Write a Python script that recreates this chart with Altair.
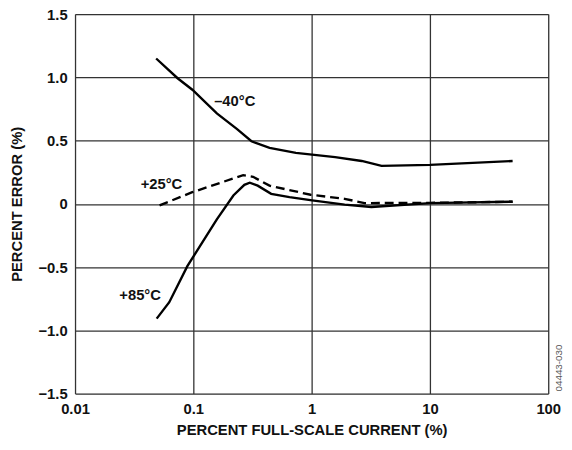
import altair as alt
import pandas as pd

x_m40 = [0.0485, 0.0736, 0.0981, 0.158, 0.233, 0.31, 0.441, 0.736, 1.58, 2.65, 3.9, 10.0, 50.0]
y_m40 = [1.149, 0.993, 0.902, 0.715, 0.593, 0.495, 0.442, 0.403, 0.37, 0.339, 0.30, 0.308, 0.339]

x_p25 = [0.0518, 0.098, 0.264, 0.32, 0.44, 0.98, 1.9, 2.8, 10.0, 50.0]
y_p25 = [-0.012, 0.092, 0.227, 0.214, 0.144, 0.072, 0.04, 0.006, 0.008, 0.017]

x_p85 = [0.049, 0.0626, 0.089, 0.158, 0.218, 0.27, 0.30, 0.35, 0.455, 0.65, 1.01, 1.9, 3.2, 10.0, 50.0]
y_p85 = [-0.907, -0.777, -0.492, -0.123, 0.066, 0.15, 0.167, 0.144, 0.079, 0.053, 0.027, -0.006, -0.025, 0.006, 0.017]

label_text = ["\u201340\u00b0C", "+25\u00b0C", "+85\u00b0C"]
label_x = [0.224, 0.0538, 0.0355]
label_y = [0.81, 0.153, -0.72]

x_ticks = [0.01, 0.1, 1, 10, 100]
y_ticks = [-1.5, -1.0, -0.5, 0, 0.5, 1.0, 1.5]

rows = []
for name, xs, ys in [("m40", x_m40, y_m40), ("p25", x_p25, y_p25), ("p85", x_p85, y_p85)]:
    for i, (a, b) in enumerate(zip(xs, ys)):
        rows.append({"series": name, "x": a, "y": b, "order": i})
df = pd.DataFrame(rows)
lab = pd.DataFrame({"t": label_text, "x": label_x, "y": label_y})

FONT = "Liberation Sans"
FS = 15

xscale = alt.Scale(type="log", domain=[0.01, 100])
yscale = alt.Scale(domain=[-1.5, 1.5])

xaxis = alt.Axis(
    values=x_ticks,
    labelExpr="datum.value >= 1 ? format(datum.value, 'd') : (datum.value >= 0.1 ? '0.1' : '0.01')",
    title="PERCENT FULL-SCALE CURRENT (%)",
    grid=True, gridColor="#333333", gridWidth=1.3,
    ticks=False, domain=False, labelPadding=8, titlePadding=6,
    labelFont=FONT, labelFontSize=FS, labelFontWeight="bold", labelColor="#111111",
    titleFont=FONT, titleFontSize=FS, titleFontWeight="bold", titleColor="#111111",
    labelFlush=False, labelOverlap=False,
)
yaxis = alt.Axis(
    values=y_ticks,
    labelExpr="datum.value == 0 ? '0' : replace(format(datum.value, '.1f'), '-', '\u2013')",
    title="PERCENT ERROR (%)",
    grid=True, gridColor="#333333", gridWidth=1.3,
    ticks=False, domain=False, labelPadding=8, titlePadding=14,
    labelFont=FONT, labelFontSize=FS, labelFontWeight="bold", labelColor="#111111",
    titleFont=FONT, titleFontSize=FS, titleFontWeight="bold", titleColor="#111111",
    labelFlush=False, labelOverlap=False,
)

solid = alt.Chart(df).transform_filter("datum.series != 'p25'").mark_line(
    color="black", strokeWidth=2.4
).encode(
    x=alt.X("x:Q", scale=xscale, axis=xaxis),
    y=alt.Y("y:Q", scale=yscale, axis=yaxis),
    detail="series:N",
    order="order:Q",
)

dashed = alt.Chart(df).transform_filter("datum.series == 'p25'").mark_line(
    color="black", strokeWidth=2.4, strokeDash=[9, 5]
).encode(
    x=alt.X("x:Q", scale=xscale),
    y=alt.Y("y:Q", scale=yscale),
    order="order:Q",
)

labels = alt.Chart(lab).mark_text(
    font=FONT, fontSize=FS, fontWeight="bold", color="#111111"
).encode(
    x=alt.X("x:Q", scale=xscale),
    y=alt.Y("y:Q", scale=yscale),
    text="t:N",
)

code = alt.Chart(pd.DataFrame({"t": ["04443-030"]})).mark_text(
    font=FONT, fontSize=10, color="#555555", angle=270
).encode(
    x=alt.value(491), y=alt.value(359), text="t:N"
)

chart = alt.layer(solid, dashed, labels, code).properties(
    width=480, height=385,
    autosize=alt.AutoSizeParams(type="none"),
    padding={"left": 68, "top": 3, "right": 16, "bottom": 54},
).configure_view(
    stroke="black", strokeWidth=2.2
).configure(background="white")

chart.save("out.html", embed_options={"renderer": "svg", "actions": False})
